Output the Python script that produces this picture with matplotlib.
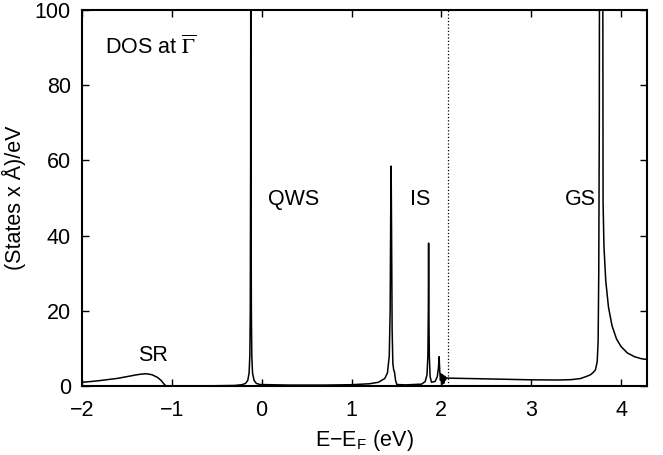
import matplotlib
matplotlib.use('Agg')
import matplotlib.pyplot as plt

plt.rcParams['font.family'] = ['Liberation Sans', 'DejaVu Sans']
plt.rcParams['mathtext.fontset'] = 'stix'

# DOS curve (values above 100 are clipped by the axis)
energy = [-2.00, -1.90, -1.80, -1.70, -1.60, -1.50, -1.40, -1.33, -1.28, -1.22,
          -1.16, -1.12, -1.09, -1.07, -1.00, -0.60, -0.30, -0.22, -0.18, -0.155,
          -0.14, -0.132, -0.127, -0.123, -0.121, -0.119, -0.115, -0.11, -0.102, -0.085,
          -0.06, -0.02, 0.30, 0.70, 1.00, 1.20, 1.30, 1.37, 1.40, 1.42,
          1.43, 1.436, 1.441, 1.446, 1.452, 1.46, 1.47, 1.478, 1.49, 1.505,
          1.60, 1.78, 1.82, 1.84, 1.85, 1.855, 1.858, 1.861, 1.866, 1.875,
          1.89, 1.93, 1.955, 1.968, 1.975, 1.982, 1.99, 1.998, 2.004, 2.01,
          2.016, 2.022, 2.03, 2.038, 2.045, 2.055, 2.075, 2.50, 3.00, 3.30,
          3.45, 3.55, 3.62, 3.66, 3.69, 3.715, 3.735, 3.745, 3.752, 3.758,
          3.762, 3.795, 3.80, 3.81, 3.83, 3.86, 3.90, 3.95, 4.00, 4.07,
          4.15, 4.22, 4.30]
dos = [1.0, 1.2, 1.45, 1.75, 2.05, 2.5, 2.95, 3.2, 3.25, 3.0,
       2.3, 1.5, 0.6, 0.1, 0.0, 0.05, 0.15, 0.35, 0.7, 1.5,
       3.5, 8, 20, 60, 150, 60, 20, 8, 3.5, 1.5,
       0.7, 0.4, 0.25, 0.25, 0.35, 0.6, 1.0, 2.0, 3.5, 8,
       20, 45, 58.5, 40, 15, 6, 4.2, 3.8, 1.5, 0.4,
       0.3, 0.5, 1.2, 3, 8, 20, 38, 20, 8, 2.5,
       1.0, 1.2, 2.5, 5, 7.8, 4, 1.5, 3.2, 0.5, 3.0,
       0.6, 2.8, 0.8, 2.6, 1.6, 2.2, 2.1, 1.9, 1.65, 1.6,
       1.7, 2.0, 2.6, 3.0, 3.6, 4.3, 6.5, 12, 30, 70,
       150, 150, 49, 37, 28, 21, 16, 12.5, 10.5, 8.8,
       7.8, 7.3, 7.0]
vacuum_level = 2.07

labels = ['QWS', 'IS', 'GS', 'SR']
label_x = [0.07, 1.65, 3.37, -1.38]
label_y = [49.6, 49.6, 49.6, 8.1]

fig = plt.figure(figsize=(6.63, 4.55), dpi=100)
ax = fig.add_axes([0.1237, 0.1516, 0.8523, 0.8264])

ax.plot(energy, dos, color='black', linewidth=1.1)
ax.axvline(vacuum_level, color='black', linestyle=':', linewidth=0.9)

for name, x, y in zip(labels, label_x, label_y):
    ax.text(x, y, name, fontsize=15.5, va='center', ha='left')
ax.text(-1.745, 90.2, r'DOS at $\overline{\Gamma}$', fontsize=15.5, va='center', ha='left')

ax.set_xlim(-2, 4.29)
ax.set_ylim(0, 100)
ax.set_xticks([-2, -1, 0, 1, 2, 3, 4])
ax.set_xticklabels(['\u22122', '\u22121', '0', '1', '2', '3', '4'])
ax.set_yticks([0, 20, 40, 60, 80, 100])
ax.tick_params(direction='in', top=True, right=True, length=5, width=1.0,
               labelsize=15.5, pad=8)
ax.tick_params(axis='x', pad=10)
for s in ax.spines.values():
    s.set_linewidth(1.5)

ax.set_xlabel('E\u2212E$_\\mathregular{F}$ (eV)', fontsize=15.5, labelpad=5)
ax.set_ylabel('(States x \u00c5)/eV', fontsize=15.5, labelpad=6)

fig.savefig('out.png', dpi=100)
